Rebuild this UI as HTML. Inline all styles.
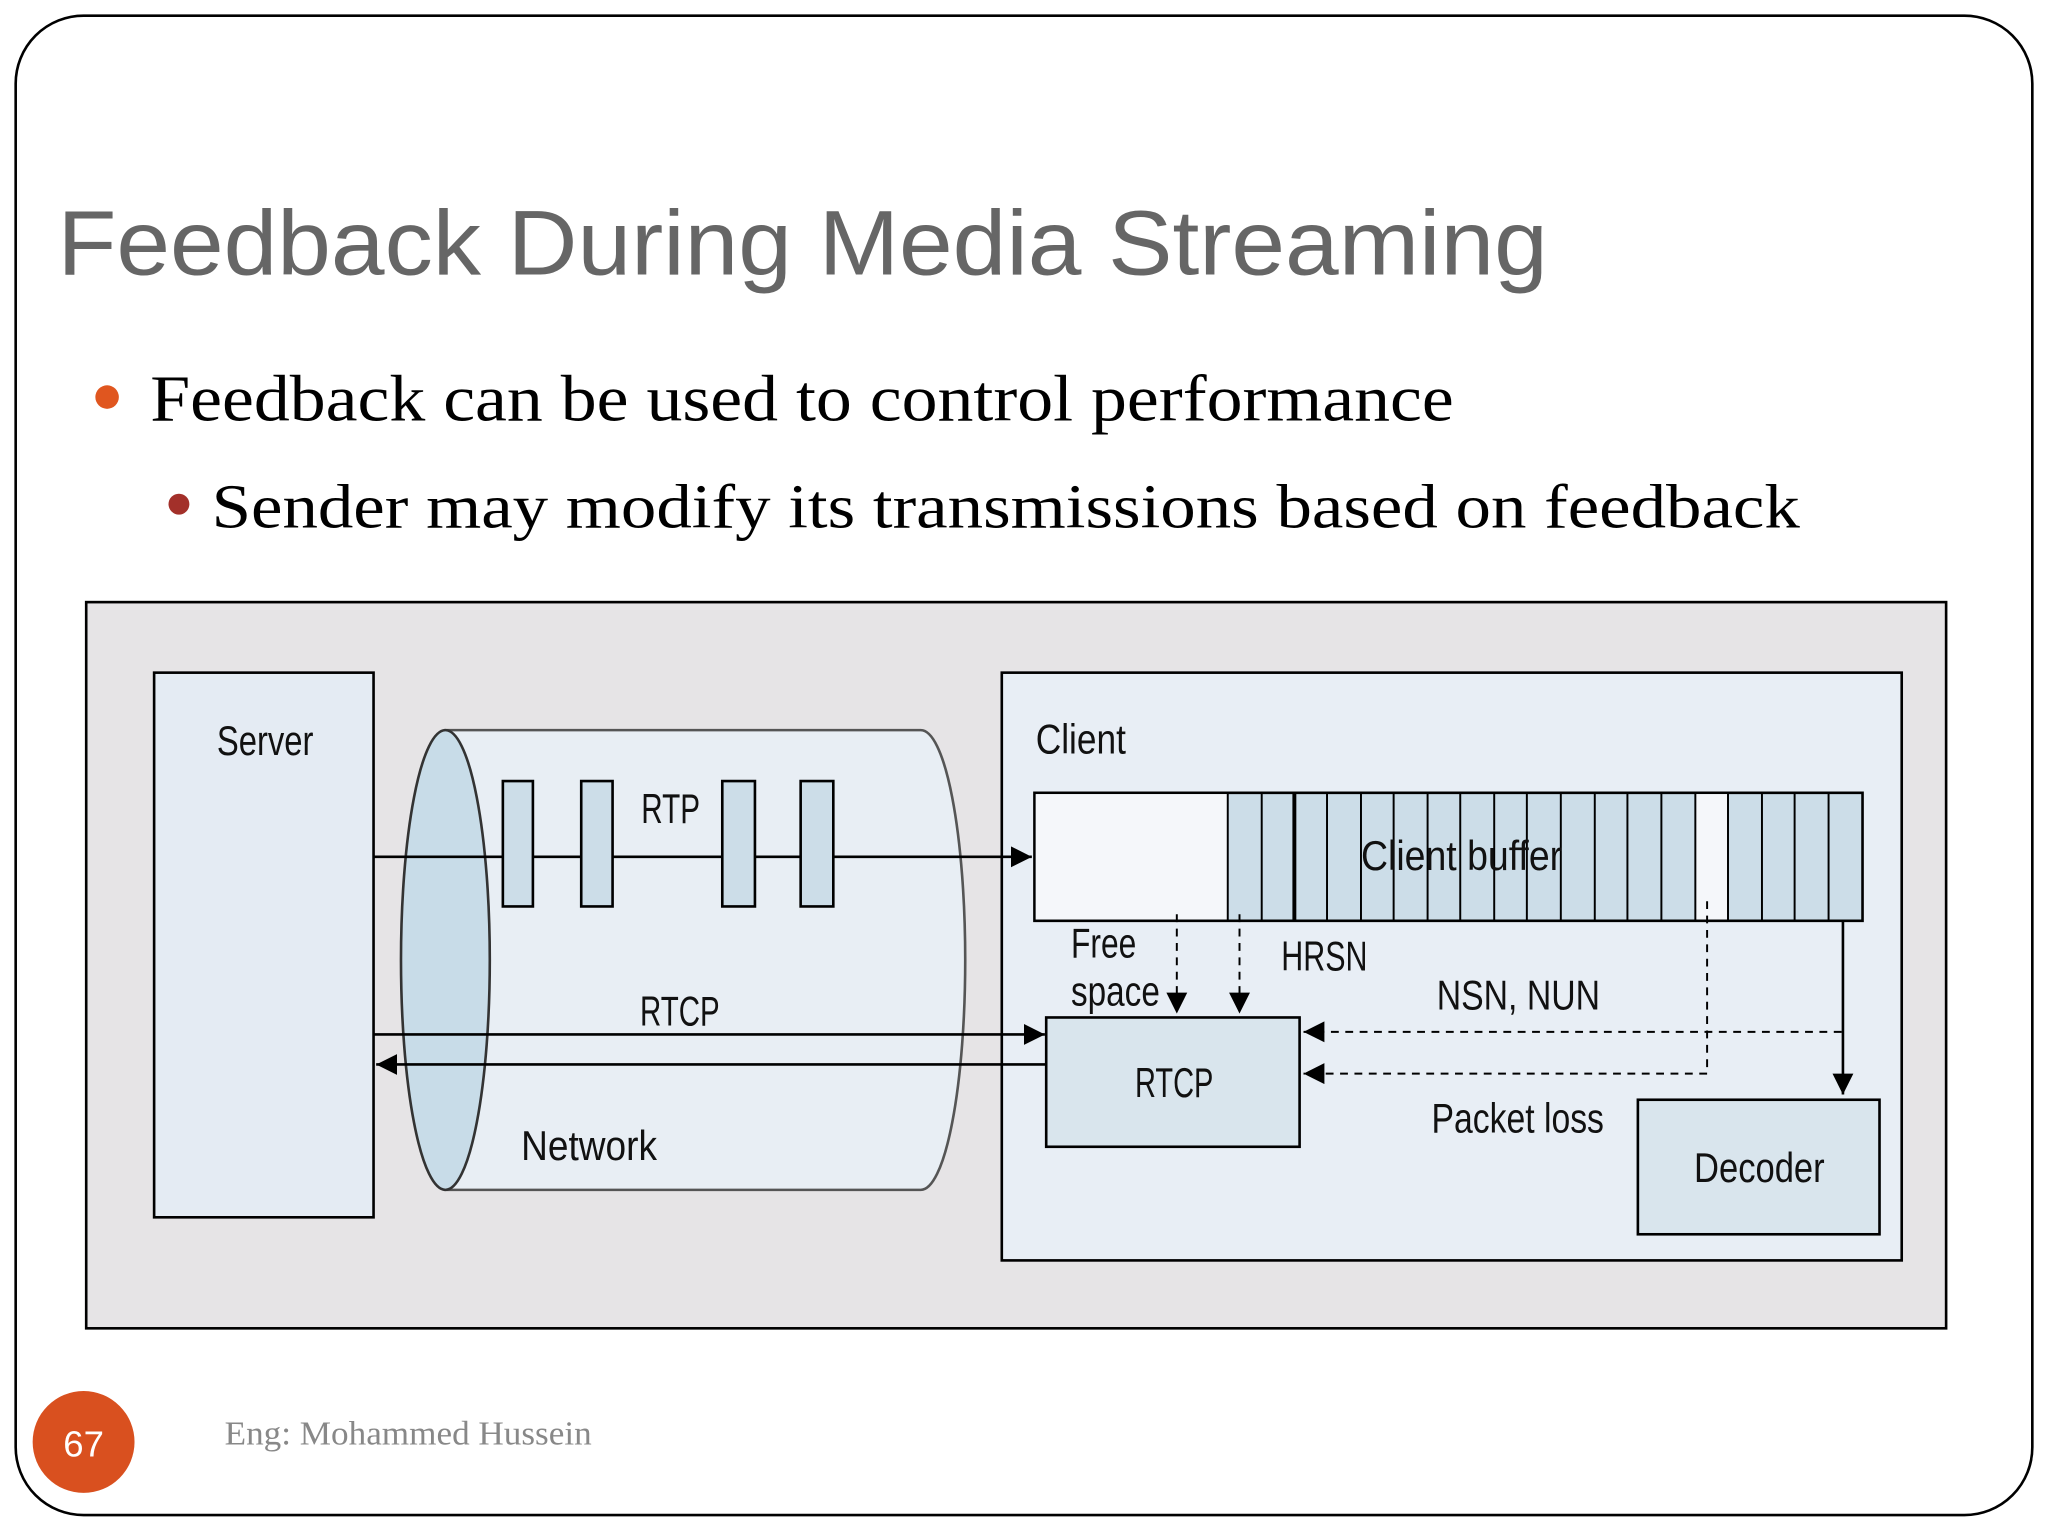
<!DOCTYPE html>
<html><head><meta charset="utf-8"><style>html,body{margin:0;padding:0;background:#fff}svg{display:block}</style></head>
<body>
<svg width="2048" height="1536" viewBox="0 0 1568 1176" xmlns="http://www.w3.org/2000/svg">
<defs>
<marker id="b" markerWidth="16" markerHeight="20" refX="16" refY="8" orient="auto" markerUnits="userSpaceOnUse"><path d="M0,0 L16,8 L0,16 z" fill="#000"/></marker>
</defs>
<rect x="12" y="12" width="1544" height="1148" rx="52" fill="#fff" stroke="#000" stroke-width="2"/>
<text x="44" y="210" font-family="Liberation Sans, sans-serif" font-size="70" fill="#666" textLength="1141" lengthAdjust="spacingAndGlyphs">Feedback During Media Streaming</text>
<circle cx="82" cy="304" r="9" fill="#e0561f"/>
<text x="115" y="322" font-family="Liberation Serif, serif" font-size="50" fill="#000" textLength="998" lengthAdjust="spacingAndGlyphs">Feedback can be used to control performance</text>
<circle cx="137" cy="386" r="8" fill="#a3302a"/>
<text x="162" y="404" font-family="Liberation Serif, serif" font-size="48" fill="#000" textLength="1216" lengthAdjust="spacingAndGlyphs">Sender may modify its transmissions based on  feedback</text>

<rect x="66" y="461" width="1424" height="556" fill="#e6e4e6" stroke="#000" stroke-width="2"/>
<g font-family="Liberation Sans, sans-serif" font-size="32" fill="#111" lengthAdjust="spacingAndGlyphs">
<rect x="118" y="515" width="168" height="417" fill="#e4ebf3" stroke="#000" stroke-width="2"/>
<text x="166" y="578" textLength="74" lengthAdjust="spacingAndGlyphs">Server</text>
<path d="M341,559 L705,559 A34,176 0 0 1 705,911 L341,911 z" fill="#e8eef4" stroke="#555" stroke-width="2"/>
<ellipse cx="341" cy="735" rx="34" ry="176" fill="#c8dce8" stroke="#333" stroke-width="2"/>
<rect x="767" y="515" width="689" height="450" fill="#e8eef5" stroke="#000" stroke-width="2"/>
<line x1="286" y1="656" x2="790" y2="656" stroke="#000" stroke-width="2" marker-end="url(#b)"/>
<g fill="#ccdde8" stroke="#000" stroke-width="2">
<rect x="385" y="598" width="23" height="96"/><rect x="445" y="598" width="24" height="96"/><rect x="553" y="598" width="25" height="96"/><rect x="613" y="598" width="25" height="96"/>
</g>
<text x="491" y="630" textLength="45" lengthAdjust="spacingAndGlyphs">RTP</text>
<line x1="286" y1="792" x2="800" y2="792" stroke="#000" stroke-width="2" marker-end="url(#b)"/>
<line x1="801" y1="815" x2="288" y2="815" stroke="#000" stroke-width="2" marker-end="url(#b)"/>
<text x="490" y="785" textLength="61" lengthAdjust="spacingAndGlyphs">RTCP</text>
<text x="399" y="888" textLength="104" lengthAdjust="spacingAndGlyphs">Network</text>

<text x="793" y="577" textLength="69" lengthAdjust="spacingAndGlyphs">Client</text>
<rect x="792" y="607" width="634" height="98" fill="#ccdde8" stroke="#000" stroke-width="2"/>
<rect x="793" y="608" width="147" height="96" fill="#f5f7fa"/>
<rect x="1298" y="608" width="25" height="96" fill="#f5f7fa"/>
<g stroke="#000" stroke-width="1.5">
<line x1="940" y1="607" x2="940" y2="705"/><line x1="966" y1="607" x2="966" y2="705"/><line x1="991" y1="607" x2="991" y2="705" stroke-width="3"/>
<line x1="1016" y1="607" x2="1016" y2="705"/><line x1="1042" y1="607" x2="1042" y2="705"/><line x1="1067" y1="607" x2="1067" y2="705"/><line x1="1093" y1="607" x2="1093" y2="705"/><line x1="1118" y1="607" x2="1118" y2="705"/><line x1="1144" y1="607" x2="1144" y2="705"/><line x1="1169" y1="607" x2="1169" y2="705"/><line x1="1195" y1="607" x2="1195" y2="705"/><line x1="1221" y1="607" x2="1221" y2="705"/><line x1="1246" y1="607" x2="1246" y2="705"/><line x1="1272" y1="607" x2="1272" y2="705"/><line x1="1298" y1="607" x2="1298" y2="705"/><line x1="1323" y1="607" x2="1323" y2="705"/><line x1="1349" y1="607" x2="1349" y2="705"/><line x1="1374" y1="607" x2="1374" y2="705"/><line x1="1400" y1="607" x2="1400" y2="705"/>
</g>
<text x="1042" y="666" textLength="154" lengthAdjust="spacingAndGlyphs">Client buffer</text>
<g stroke="#000" stroke-width="1.5" stroke-dasharray="6,5" fill="none">
<line x1="901" y1="700" x2="901" y2="776" marker-end="url(#b)"/>
<line x1="949" y1="700" x2="949" y2="776" marker-end="url(#b)"/>
<polyline points="1307,690 1307,822 998,822" marker-end="url(#b)"/>
<line x1="1410" y1="790" x2="998" y2="790" marker-end="url(#b)"/>
</g>
<line x1="1411" y1="705" x2="1411" y2="838" stroke="#000" stroke-width="2" marker-end="url(#b)"/>
<rect x="801" y="779" width="194" height="99" fill="#d9e5ed" stroke="#000" stroke-width="2"/>
<text x="869" y="840" textLength="60" lengthAdjust="spacingAndGlyphs">RTCP</text>
<rect x="1254" y="842" width="185" height="103" fill="#d9e5ed" stroke="#000" stroke-width="2"/>
<text x="1297" y="905" textLength="100" lengthAdjust="spacingAndGlyphs">Decoder</text>
<text x="820" y="733" textLength="50" lengthAdjust="spacingAndGlyphs">Free</text>
<text x="820" y="770" textLength="68" lengthAdjust="spacingAndGlyphs">space</text>
<text x="981" y="743" textLength="66" lengthAdjust="spacingAndGlyphs">HRSN</text>
<text x="1100" y="773" textLength="125" lengthAdjust="spacingAndGlyphs">NSN, NUN</text>
<text x="1096" y="867" textLength="132" lengthAdjust="spacingAndGlyphs">Packet loss</text>
</g>
<circle cx="64" cy="1104" r="39" fill="#d9501f"/>
<text x="64" y="1115" text-anchor="middle" font-family="Liberation Sans, sans-serif" font-size="28" fill="#fff">67</text>
<text x="172" y="1106" font-family="Liberation Serif, serif" font-size="26" fill="#888" textLength="281" lengthAdjust="spacingAndGlyphs">Eng: Mohammed Hussein</text>
</svg>
</body></html>
